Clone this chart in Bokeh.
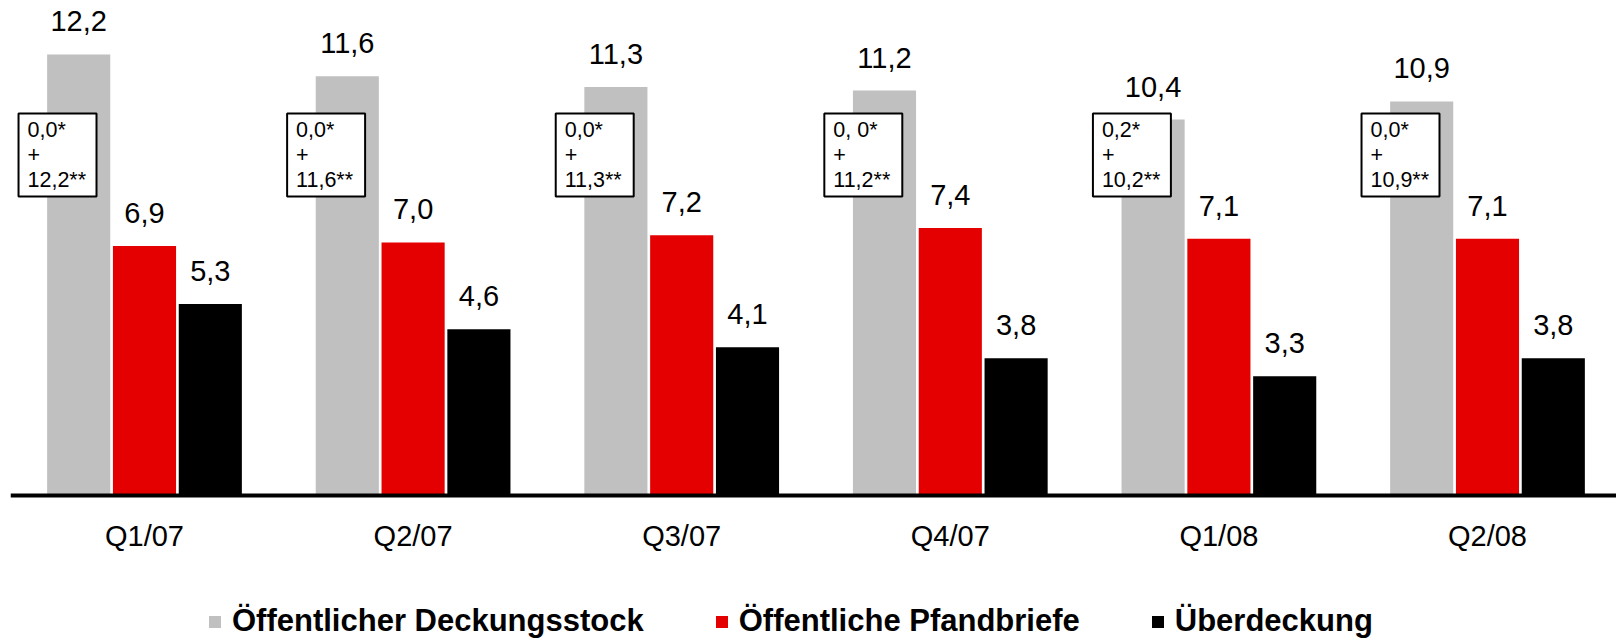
from bokeh.plotting import figure
from bokeh.models import Range1d, FixedTicker, Legend, LegendItem, ColumnDataSource, LinearAxis
from bokeh.transform import dodge
from bokeh.core.properties import value
from bokeh.embed import file_html
from bokeh.resources import INLINE

# ---- data ----
quarters = ["Q1/07", "Q2/07", "Q3/07", "Q4/07", "Q1/08", "Q2/08"]
deckungsstock = [12.2, 11.6, 11.3, 11.2, 10.4, 10.9]
pfandbriefe = [6.9, 7.0, 7.2, 7.4, 7.1, 7.1]
ueberdeckung = [5.3, 4.6, 4.1, 3.8, 3.3, 3.8]
box_line1 = ["0,0*", "0,0*", "0,0*", "0, 0*", "0,2*", "0,0*"]
box_line2 = ["+", "+", "+", "+", "+", "+"]
box_line3 = ["12,2**", "11,6**", "11,3**", "11,2**", "10,2**", "10,9**"]
series_names = ["Öffentlicher Deckungsstock", "Öffentliche Pfandbriefe", "Überdeckung"]


def fmt(v):
    return f"{v:.1f}".replace(".", ",")


idx = list(range(len(quarters)))
src = ColumnDataSource(dict(
    x=idx,
    g=deckungsstock, r=pfandbriefe, b=ueberdeckung,
    gl=[fmt(v) for v in deckungsstock],
    rl=[fmt(v) for v in pfandbriefe],
    bl=[fmt(v) for v in ueberdeckung],
    l1=box_line1, l2=box_line2, l3=box_line3,
))

FONT = value("Liberation Sans")
GRAY, RED, BLACK = "#c0c0c0", "#e40000", "#000000"

p = figure(width=1616, height=641,
           x_range=Range1d(-0.4989, 5.4803), y_range=Range1d(-4.039, 13.693),
           output_backend="svg", toolbar_location=None,
           x_axis_location=None, y_axis_location=None,
           min_border_left=10, min_border_right=0, min_border_top=0, min_border_bottom=0)
p.grid.visible = False
p.outline_line_color = None

W = 0.235
OFF = 0.245
rg = p.vbar(x=dodge("x", -OFF), top="g", width=W, source=src, fill_color=GRAY, line_color=None)
rr = p.vbar(x=dodge("x", 0), top="r", width=W, source=src, fill_color=RED, line_color=None)
rb = p.vbar(x=dodge("x", OFF), top="b", width=W, source=src, fill_color=BLACK, line_color=None)

for col, lab, off in (("g", "gl", -OFF), ("r", "rl", 0), ("b", "bl", OFF)):
    p.text(x=dodge("x", off), y=col, text=lab, source=src, text_font=FONT,
           text_font_size="29px", text_align="center", text_baseline="alphabetic",
           y_offset=-33, text_color="#000000")

# annotation boxes
p.quad(left=dodge("x", -0.469), right=dodge("x", -0.1787), top=10.567, bottom=8.271,
       source=src, fill_color="white", line_color="black", line_width=2)
for lab, yy in (("l1", 10.124), ("l2", 9.433), ("l3", 8.714)):
    p.text(x=dodge("x", -0.4356), y=yy, text=lab, source=src, text_font=FONT,
           text_font_size="21.5px", text_align="left", text_baseline="alphabetic",
           text_color="#000000")

ax = LinearAxis(fixed_location=0)
ax.ticker = FixedTicker(ticks=idx)
ax.major_label_overrides = {i: q for i, q in zip(idx, quarters)}
ax.axis_line_width = 4
ax.axis_line_color = "black"
ax.major_tick_line_color = None
ax.minor_tick_line_color = None
ax.major_tick_out = 0
ax.major_tick_in = 0
ax.major_label_standoff = 25
ax.major_label_text_font = "Liberation Sans"
ax.major_label_text_font_size = "29px"
ax.major_label_text_color = "black"
p.add_layout(ax, "below")

legend = Legend(items=[LegendItem(label=series_names[0], renderers=[rg]),
                       LegendItem(label=series_names[1], renderers=[rr]),
                       LegendItem(label=series_names[2], renderers=[rb])],
                orientation="horizontal", location=(197, 2),
                glyph_width=15, glyph_height=15, label_standoff=10, spacing=70,
                padding=0, margin=0, border_line_color=None, background_fill_alpha=0,
                label_text_font="Liberation Sans", label_text_font_style="bold",
                label_text_color="#000000",
                label_text_font_size="31px", label_height=15)
p.add_layout(legend, "center")

open("out.html", "w").write(file_html(p, INLINE))
